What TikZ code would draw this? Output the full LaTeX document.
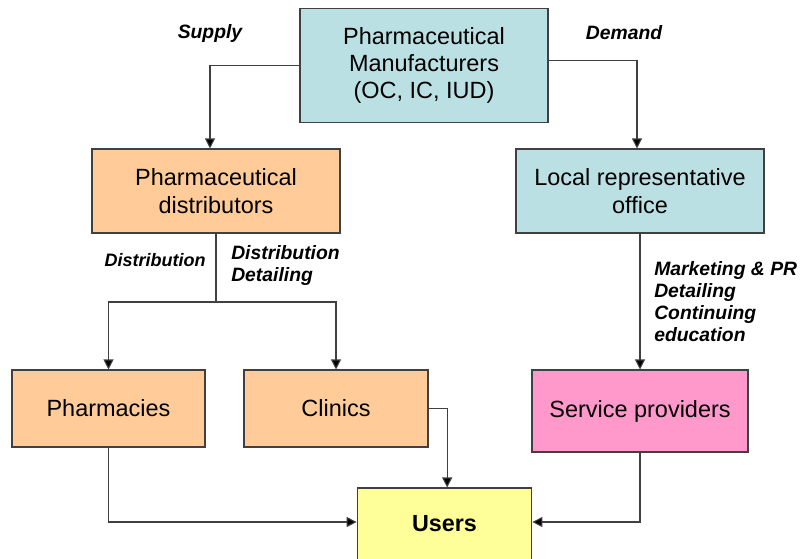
\documentclass[tikz,border=0pt]{standalone}
\usepackage{fontspec}
\setmainfont{Liberation Sans}
\usetikzlibrary{arrows.meta}
\definecolor{manucol}{HTML}{BBE0E3}
\definecolor{distcol}{HTML}{FFCC99}
\definecolor{servcol}{HTML}{FF99CC}
\definecolor{usercol}{HTML}{FFFF99}
\definecolor{linecol}{HTML}{404040}
\newcommand{\lbl}{\fontsize{14.5}{16.5}\selectfont\bfseries\itshape}

\begin{document}
\begin{tikzpicture}[x=0.75pt,y=-0.75pt,
   box/.style={draw=linecol,line width=0.8pt,align=center,inner sep=2pt,
               font=\fontsize{17.6}{20.5}\selectfont},
   arr/.style={draw=linecol,line width=0.8pt,-{Triangle[length=7.5pt,width=7.5pt,fill=black]}},
   wire/.style={draw=linecol,line width=0.8pt}]
   \clip (0,0) rectangle (802,558);
   \fill[white] (0,0) rectangle (802,558);
   % boxes
   \node[box,fill=manucol,minimum width=186pt,minimum height=86pt] (manu) at (424,65.5)
      {Pharmaceutical\\Manufacturers\\(OC, IC, IUD)};
   \node[box,fill=distcol,minimum width=186pt,minimum height=63pt] (dist) at (216,191)
      {Pharmaceutical\\distributors};
   \node[box,fill=manucol,minimum width=186pt,minimum height=63pt] (rep) at (640,191)
      {Local representative\\office};
   \node[box,fill=distcol,minimum width=144.75pt,minimum height=57.75pt] (pharm) at (108.5,408.5)
      {Pharmacies};
   \node[box,fill=distcol,minimum width=138pt,minimum height=57.75pt] (clin) at (336,408.5)
      {Clinics};
   \node[box,fill=servcol,minimum width=162pt,minimum height=61.5pt] (serv) at (640,411)
      {Service providers};
   \node[box,fill=usercol,minimum width=131pt,minimum height=54pt,font=\fontsize{17.5}{21}\selectfont\bfseries] (users) at (444.5,524)
      {Users};
   % labels
   \node[font=\lbl] (supply) at (210,33) {Supply};
   \node[font=\lbl] (demand) at (624,33) {Demand};
   \node[font=\fontsize{13.5}{16}\selectfont\bfseries\itshape] (distr) at (155,260) {Distribution};
   \node[font=\lbl,align=left,anchor=west,inner sep=0pt] (detail) at (231,265)
      {Distribution\\Detailing};
   \node[font=\lbl,align=left,anchor=west,inner sep=0pt] (mkt) at (654,302)
      {Marketing \& PR\\Detailing\\Continuing\\education};
   % connectors
   \coordinate (fork) at (216,302);
   \draw[arr] (manu.west) -| ([xshift=-4.5pt]dist.north);
   \draw[arr] ([yshift=4pt]manu.east) -| ([xshift=-2.25pt]rep.north);
   \draw[wire] (dist.south) -- (fork);
   \draw[arr] (fork) -| (pharm.north);
   \draw[arr] (fork) -| (clin.north);
   \draw[arr] (rep.south) -- (serv.north);
   \draw[arr] (pharm.south) |- ([yshift=1.5pt]users.west);
   \draw[arr] (clin.east) -| ([xshift=2pt]users.north);
   \draw[arr] (serv.south) |- ([yshift=1.5pt]users.east);
\end{tikzpicture}
\end{document}
